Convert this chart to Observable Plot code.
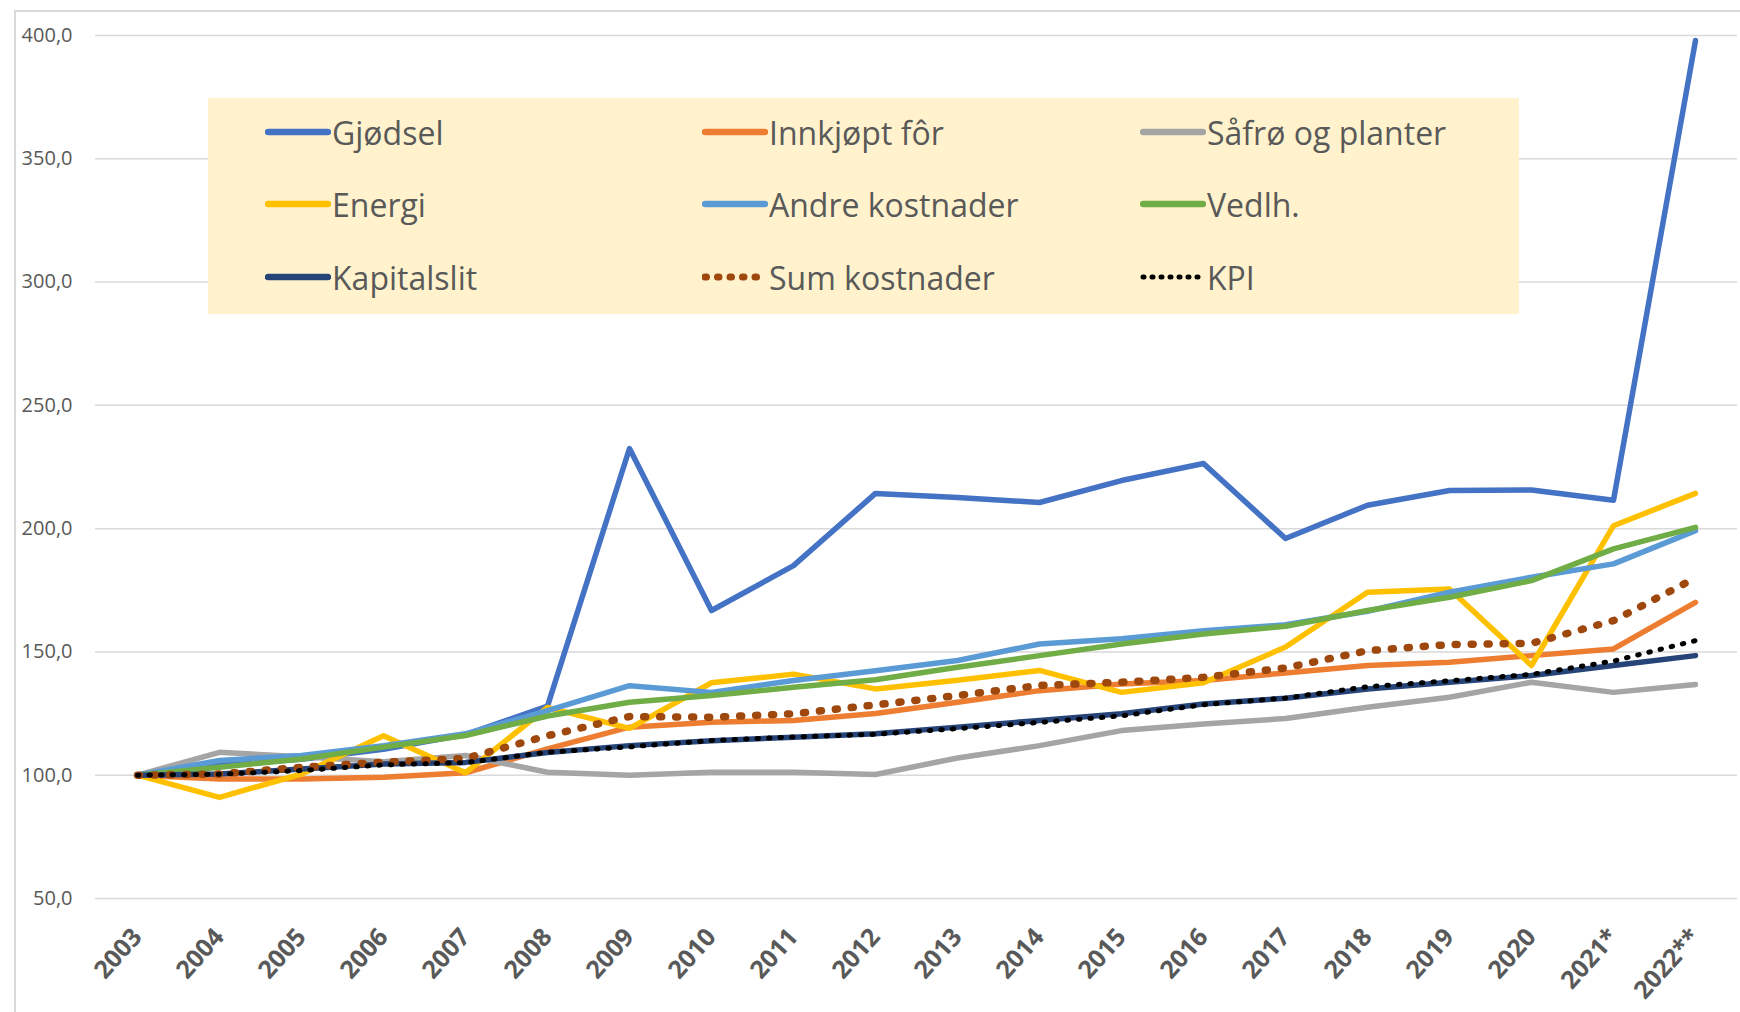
<!DOCTYPE html>
<html>
<head>
<meta charset="utf-8">
<script src="https://cdn.jsdelivr.net/npm/d3@7"></script>
<script src="https://cdn.jsdelivr.net/npm/@observablehq/plot@0.6"></script>
<style>
  html, body { margin: 0; padding: 0; background: #fff; }
  #wrap { position: relative; width: 1740px; height: 1012px; overflow: hidden; font-family: "Open Sans", "Noto Sans", sans-serif; }
  #frame { position: absolute; left: 14px; top: 10px; width: 1800px; height: 1100px; border-left: 2px solid #d9d9d9; border-top: 2px solid #d9d9d9; }
  #chart { position: absolute; left: 0; top: 0; }
  #legend { position: absolute; left: 208px; top: 98px; width: 1311px; height: 216px; background: #FFF2CC; }
  .item { position: absolute; display: flex; align-items: center; height: 40px; color: #595959; font-size: 32px; white-space: nowrap; }
  .item svg { display: block; margin-right: 1px; }
  g[aria-label="x-axis tick label"] text { font-weight: bold; }
</style>
</head>
<body>
<div id="wrap">
  <div id="frame"></div>
  <div id="chart"></div>
  <div id="legend"></div>
</div>
<script>
// ---- data ----
const years = ["2003","2004","2005","2006","2007","2008","2009","2010","2011","2012","2013","2014","2015","2016","2017","2018","2019","2020","2021*","2022**"];
const yTicks = [50, 100, 150, 200, 250, 300, 350, 400];

const seriesNames = ["Gjødsel", "Innkjøpt fôr", "Såfrø og planter", "Energi", "Andre kostnader", "Vedlh.", "Kapitalslit", "Sum kostnader", "KPI"];

const gjodsel   = [100, 104, 106.5, 110.5, 116.5, 128, 232.5, 166.8, 185, 214.3, 212.6, 210.6, 219.5, 226.4, 196, 209.5, 215.5, 215.7, 211.5, 398];
const innkjopt  = [100, 98.5, 98.5, 99.2, 101, 110.7, 119.5, 121.5, 122.2, 125, 129.6, 134.3, 137, 138.4, 141.5, 144.5, 145.8, 148.5, 151.2, 170.1];
const safro     = [100, 109.3, 107.5, 105.5, 108, 101.2, 100, 101.2, 101.2, 100.3, 107, 112, 118.1, 120.8, 123, 127.6, 131.6, 137.7, 133.6, 136.8];
const energi    = [100, 91, 100.5, 116, 101, 127.5, 119, 137.5, 141, 135, 138.5, 142.5, 133.6, 137.5, 152, 174.2, 175.5, 144.5, 201.2, 214.3];
const andre     = [100, 106, 108, 112, 116.8, 126.2, 136.3, 133.6, 138.4, 142.4, 146.5, 153.2, 155.3, 158.6, 161, 166.5, 174.2, 180.3, 185.7, 199.2];
const vedlh     = [100, 103.2, 106.6, 111.4, 116.1, 124, 129.6, 132.3, 135.7, 138.7, 143.8, 148.5, 153.2, 157.3, 160.4, 166.8, 172.2, 178.9, 191.8, 200.5];
const kapital   = [100, 100.5, 102.5, 104.5, 105.2, 109.2, 112, 114, 115.4, 116.8, 119.5, 122.2, 124.9, 128.9, 131.2, 135, 137.7, 140.4, 144.5, 148.5];
const sumKost   = [100, 100.5, 103.2, 105.3, 106.8, 116, 123.8, 123.5, 124.9, 128.5, 132.3, 136.4, 137.7, 139.7, 143.5, 150.5, 153, 153.5, 162.7, 180];
const kpi       = [100, 100.4, 101.9, 104.2, 105.1, 109.3, 111.5, 114.1, 115.5, 116.6, 118.9, 121.4, 124.1, 128.6, 131.3, 135.9, 138.3, 140.9, 146.3, 154.6];

const seriesValues = [gjodsel, innkjopt, safro, energi, andre, vedlh, kapital, sumKost, kpi];

// ---- styles (kept apart from data) ----
const styles = {
  "Gjødsel":          {stroke: "#4472C4", width: 5.5},
  "Innkjøpt fôr":     {stroke: "#ED7D31", width: 5.5},
  "Såfrø og planter": {stroke: "#A5A5A5", width: 5.5},
  "Energi":           {stroke: "#FFC000", width: 5.5},
  "Andre kostnader":  {stroke: "#5B9BD5", width: 5.5},
  "Vedlh.":           {stroke: "#70AD47", width: 5.5},
  "Kapitalslit":      {stroke: "#264478", width: 5.5},
  "Sum kostnader":    {stroke: "#9E480E", width: 7.5, dash: "2 14"},
  "KPI":              {stroke: "#000000", width: 5, dash: "1.5 10"}
};

const rows = seriesNames.flatMap((name, i) =>
  years.map((year, j) => ({series: name, year, value: seriesValues[i][j]}))
);

const fmt = d => d.toFixed(1).replace(".", ",");

const lineMarks = seriesNames.map(name => {
  const s = styles[name];
  return Plot.line(rows.filter(d => d.series === name), {
    x: "year", y: "value",
    stroke: s.stroke, strokeWidth: s.width,
    strokeLinejoin: "round", strokeLinecap: "round",
    strokeDasharray: s.dash
  });
});

const chart = Plot.plot({
  width: 1740,
  height: 1012,
  marginLeft: 95,
  marginRight: 3,
  marginTop: 35,
  marginBottom: 114,
  style: {fontFamily: "'Open Sans', 'Noto Sans', sans-serif", color: "#595959", background: "transparent", overflow: "visible"},
  x: {type: "point", domain: years, range: [135, 1697], padding: 0},
  y: {domain: [50, 400]},
  marks: [
    Plot.gridY(yTicks, {stroke: "#d9d9d9", strokeOpacity: 1, strokeWidth: 1.5}),
    Plot.axisY(yTicks, {tickSize: 0, tickPadding: 23, tickFormat: fmt, fontSize: 20, label: null}),
    Plot.axisX({tickSize: 0, tickRotate: -48, tickPadding: 34, fontSize: 25, label: null}),
    ...lineMarks
  ]
});
document.getElementById("chart").appendChild(chart);

// ---- legend (overlay) ----
const legend = document.getElementById("legend");
const colX = [57, 494, 932];
const rowY = [14, 86, 159];
seriesNames.forEach((name, i) => {
  const s = styles[name];
  const item = document.createElement("div");
  item.className = "item";
  item.style.left = colX[i % 3] + "px";
  item.style.top = rowY[Math.floor(i / 3)] + "px";
  const ns = "http://www.w3.org/2000/svg";
  const svg = document.createElementNS(ns, "svg");
  svg.setAttribute("width", 66); svg.setAttribute("height", 12);
  const ln = document.createElementNS(ns, "line");
  ln.setAttribute("x1", 3); ln.setAttribute("x2", 63);
  ln.setAttribute("y1", 6); ln.setAttribute("y2", 6);
  ln.setAttribute("stroke", s.stroke);
  ln.setAttribute("stroke-width", s.dash ? (name === "KPI" ? 5 : 7) : 6.5);
  ln.setAttribute("stroke-linecap", "round");
  if (s.dash) ln.setAttribute("stroke-dasharray", name === "KPI" ? "1 8" : "1.5 11");
  svg.appendChild(ln);
  item.appendChild(svg);
  const t = document.createElement("span");
  t.textContent = name;
  item.appendChild(t);
  legend.appendChild(item);
});
</script>
</body>
</html>
